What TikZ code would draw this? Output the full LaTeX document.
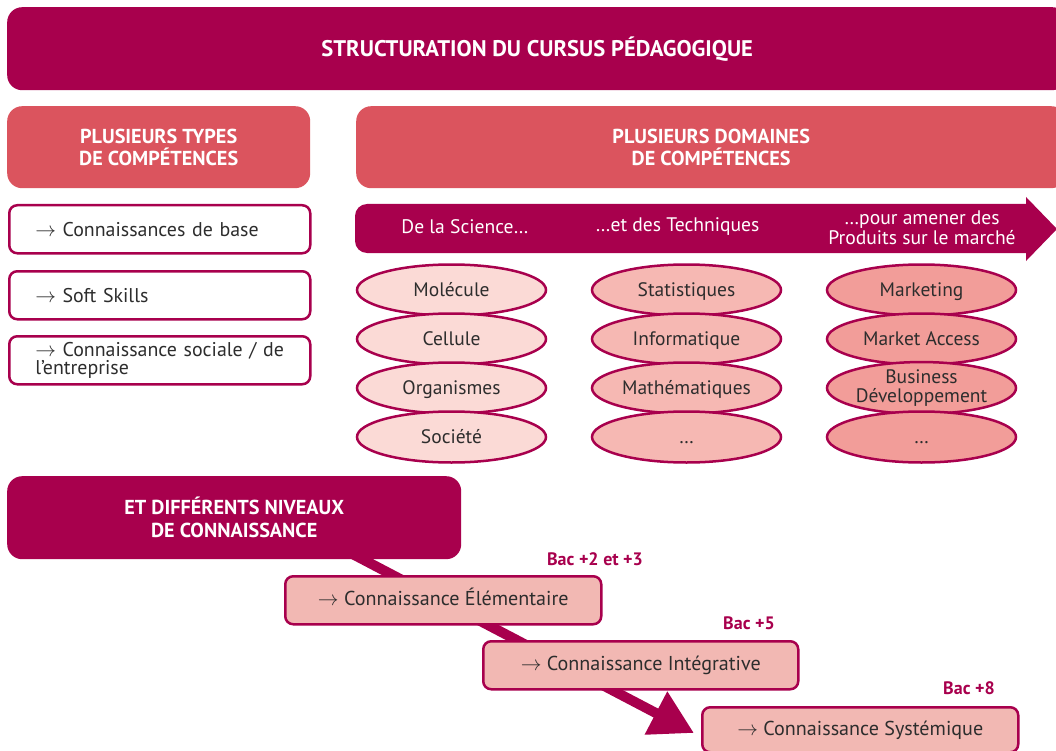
\documentclass[tikz,border=0pt]{standalone}
\usepackage{fontspec}
\setmainfont{PT Sans}
\usetikzlibrary{arrows.meta,shapes.geometric}
\definecolor{mag}{RGB}{168,0,77}
\definecolor{salmon}{RGB}{219,84,94}
\definecolor{ellA}{RGB}{251,218,214}
\definecolor{ellB}{RGB}{246,184,179}
\definecolor{ellC}{RGB}{242,157,153}
\definecolor{lvlfill}{RGB}{242,184,179}
\definecolor{txt}{RGB}{45,45,45}
\newcommand{\fsz}[2]{\fontsize{#1}{#2}\selectfont}
\newcommand{\arr}{$\rightarrow$}
\begin{document}
\begin{tikzpicture}[x=1pt,y=-1pt,
  darkbox/.style={fill=mag, rounded corners=15pt, text=white, font=\bfseries\fsz{20.2}{23}, align=center, inner sep=0pt, anchor=north west},
  salbox/.style={fill=salmon, rounded corners=15pt, text=white, font=\bfseries\fsz{20.2}{22}, align=center, inner sep=0pt, anchor=north west},
  typebox/.style={draw=mag, line width=2.5pt, fill=white, rounded corners=8pt, text=txt, font=\fsz{19.9}{18}, align=left, text width=249pt, inner xsep=26pt, inner ysep=0pt, minimum height=48pt, anchor=north west},
  lvlbox/.style={draw=mag, line width=2.5pt, fill=lvlfill, rounded corners=8pt, text=txt, font=\fsz{20.1}{17}, align=left, inner xsep=26pt, inner ysep=0pt, minimum height=48pt, anchor=north west},
  ell/.style={ellipse, draw=mag, line width=2.5pt, minimum width=189pt, minimum height=51pt, inner sep=0pt, text=txt, font=\fsz{19.5}{19}, align=center},
  oneline/.style={text height=13.5pt, text depth=0.5pt},
  lvlline/.style={text height=13.5pt, text depth=2.5pt},
  bandtxt/.style={text=white, font=\fsz{19.6}{20}, align=center, inner sep=0pt},
  bac/.style={text=mag, font=\bfseries\fsz{18}{18}, inner sep=0pt},
  bigarrow/.style={draw=mag, line width=10pt, -{Triangle[length=43pt,width=46pt]}}
]
\useasboundingbox (0,0) rectangle (1056,751);

% title
\node[darkbox, minimum width=1060pt, minimum height=83pt, font=\bfseries\fsz{22.6}{23}] (title) at (7,7) {STRUCTURATION DU CURSUS PÉDAGOGIQUE};

% headers
\node[salbox, minimum width=303pt, minimum height=82pt] (types) at (7,106) {PLUSIEURS TYPES\\DE COMPÉTENCES};
\node[salbox, minimum width=710pt, minimum height=82pt] (domaines) at (356,106) {PLUSIEURS DOMAINES\\DE COMPÉTENCES};

% types of competences
\node[typebox] (t1) at (8,204) {\arr{} Connaissances de base};
\node[typebox] (t2) at (8,270) {\arr{} Soft Skills};
\node[typebox] (t3) at (8,335) {\mbox{\arr{} Connaissance sociale / de}\\l’entreprise};

% band arrow
\fill[mag] (700,204) [rounded corners=12pt] -- (355,204) -- (355,253) -- (700,253) [sharp corners] -- (1026,253) -- (1026,261) -- (1057,229) -- (1026,197) -- (1026,204) -- cycle;
\node[bandtxt] (b1) at (465,227) {De la Science…};
\node[bandtxt] (b2) at (677.5,227) {…et des Techniques};
\node[bandtxt] (b3) at (922,228) {…pour amener des\\Produits sur le marché};

% ellipses
\node[ell, oneline, fill=ellA] (a1) at (451.5,290) {Molécule};
\node[ell, oneline, fill=ellA] (a2) at (451.5,339) {Cellule};
\node[ell, oneline, fill=ellA] (a3) at (451.5,388) {Organismes};
\node[ell, oneline, fill=ellA] (a4) at (451.5,437) {Société};
\node[ell, oneline, fill=ellB] (m1) at (686.5,290) {Statistiques};
\node[ell, oneline, fill=ellB] (m2) at (686.5,339) {Informatique};
\node[ell, oneline, fill=ellB] (m3) at (686.5,388) {Mathématiques};
\node[ell, oneline, fill=ellB] (m4) at (686.5,437) {…};
\node[ell, oneline, fill=ellC] (c1) at (921.5,290) {Marketing};
\node[ell, oneline, fill=ellC] (c2) at (921.5,339) {Market Access};
\node[ell, fill=ellC] (c3) at (921.5,388) {Business\\Développement};
\node[ell, oneline, fill=ellC] (c4) at (921.5,437) {…};

% levels
\coordinate (arrS) at (280,516);
\coordinate (arrE) at (694,733);
\draw[bigarrow] (arrS) -- (arrE);

\node[darkbox, minimum width=454pt, minimum height=83pt] (niveaux) at (7,476) {ET DIFFÉRENTS NIVEAUX\\DE CONNAISSANCE};

\node[lvlbox, lvlline, minimum width=316pt] (l1) at (284,575) {\arr{} Connaissance Élémentaire};
\node[lvlbox, lvlline, minimum width=315pt] (l2) at (482,640) {\arr{} Connaissance Intégrative};
\node[lvlbox, lvlline, minimum width=316pt, minimum height=45pt] (l3) at (701,706) {\arr{} Connaissance Systémique};

\node[bac] (bac1) at (595,559) {Bac +2 et +3};
\node[bac] (bac2) at (749,623) {Bac +5};
\node[bac] (bac3) at (969,688) {Bac +8};
\end{tikzpicture}
\end{document}
